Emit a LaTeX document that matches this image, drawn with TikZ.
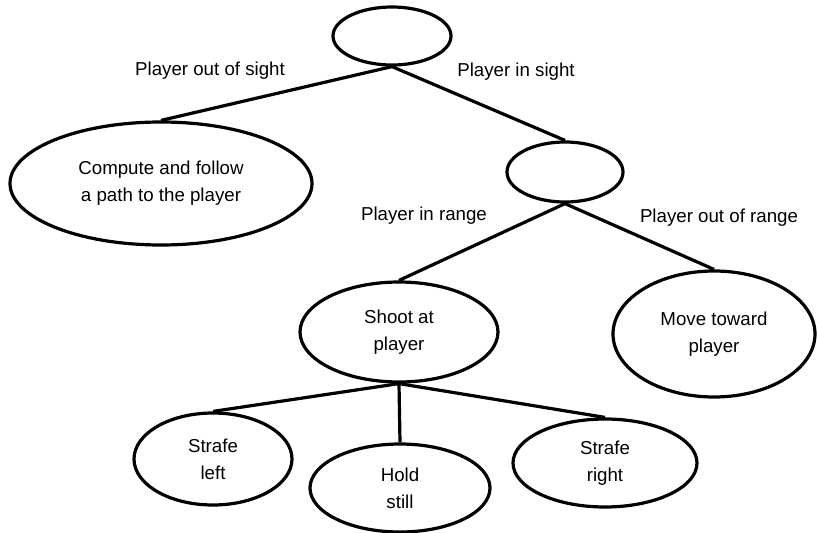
\documentclass[tikz,border=0pt]{standalone}
\usepackage{fontspec}
\setmainfont{Liberation Sans}
\usetikzlibrary{shapes.geometric}
\begin{document}
\begin{tikzpicture}[x=1pt,y=-1pt,
  every node/.style={font=\fontsize{18.7}{27}\selectfont},
  st/.style={draw,ellipse,line width=3.2pt,inner sep=0pt,align=center},
  lbl/.style={anchor=base,inner sep=0pt},
  edge/.style={line width=3.2pt}]
\useasboundingbox (0,0) rectangle (817,533);
\node[st,minimum width=118pt,minimum height=58pt] (root) at (392,36) {};
\node[st,minimum width=302pt,minimum height=123pt] (comp) at (161,183.5) {Compute and follow\\a path to the player};
\node[st,minimum width=116pt,minimum height=60pt] (mid) at (565,172) {};
\node[st,minimum width=198pt,minimum height=100pt] (shoot) at (399,332) {Shoot at\\player};
\node[st,minimum width=202pt,minimum height=126pt] (move) at (714,334) {Move toward\\player};
\node[st,minimum width=158pt,minimum height=92pt] (sl) at (213,459) {Strafe\\left};
\node[st,minimum width=180pt,minimum height=88pt] (hold) at (400,488) {Hold\\still};
\node[st,minimum width=184pt,minimum height=88pt] (sr) at (605,463) {Strafe\\right};
\draw[edge] (root.south) -- (comp.north);
\draw[edge] (root.south) -- (mid.north);
\draw[edge] (mid.south) -- (shoot.north);
\draw[edge] (mid.south) -- (move.north);
\draw[edge] (shoot.south) -- (sl.north);
\draw[edge] (shoot.south) -- (hold.north);
\draw[edge] (shoot.south) -- (sr.north);
\node[lbl] (l1) at (210,75) {Player out of sight};
\node[lbl] (l2) at (516,76) {Player in sight};
\node[lbl] (l3) at (424,220) {Player in range};
\node[lbl] (l4) at (719,222) {Player out of range};
\end{tikzpicture}
\end{document}
